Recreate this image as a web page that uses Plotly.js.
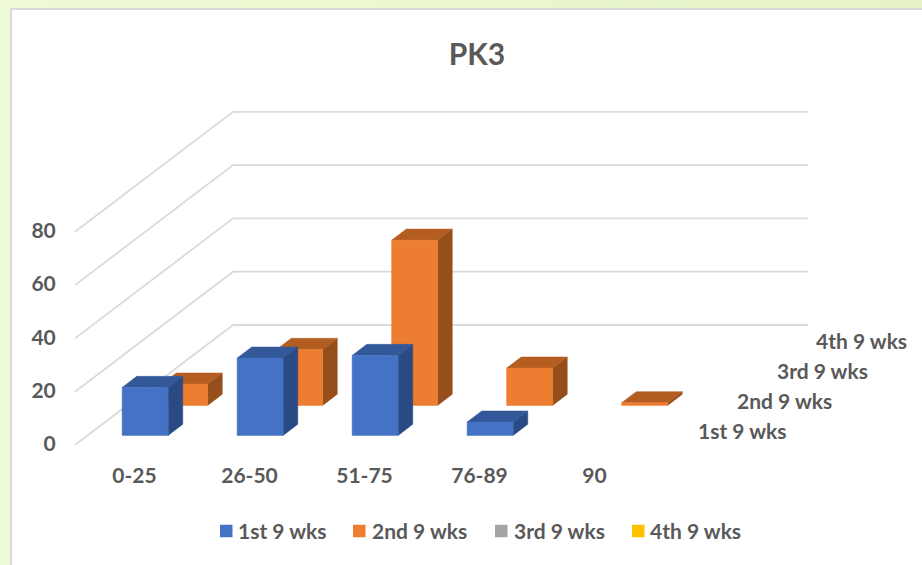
<!DOCTYPE html>
<html>
<head>
<meta charset="utf-8">
<script src="https://cdn.plot.ly/plotly-3.0.1.min.js"></script>
<style>
html,body{margin:0;padding:0;width:922px;height:565px;overflow:hidden;background:linear-gradient(90deg,#eefad7,#e6f4c6);}
#chart{width:922px;height:565px;}
</style>
</head>
<body>
<div id="chart"></div>
<script>
const categories = ['0-25', '26-50', '51-75', '76-89', '90'];
const seriesNames = ['1st 9 wks', '2nd 9 wks', '3rd 9 wks', '4th 9 wks'];
const wks1 = [18, 29, 30, 5, null];
const wks2 = [8, 21, 62, 14, 1];
const wks3 = [null, null, null, null, null];
const wks4 = [null, null, null, null, null];
const seriesValues = [wks1, wks2, wks3, wks4];
const frontColors = ['#4472C4', '#ED7D31', '#A5A5A5', '#FFC000'];
const topColors = ['#33589A', '#B45D20', '#7C7C7C', '#BF9000'];
const sideColors = ['#294A82', '#964F1B', '#636363', '#997300'];
const valueTicks = [0, 20, 40, 60, 80];

// Oblique projection: one series slot shifts a point by this much on the axes.
const W = 922, H = 565;
const pxPerCat = 115, pxPerVal = 2.665, originX = 75, originY = 445;
const slotX = 39.5 / pxPerCat, slotY = 30 / pxPerVal;
const project = (cat, depth, val) => [cat + depth * slotX, val + depth * slotY];

const barGap = 0.3, barWidth = 0.4, depthFront = 0.32, depthBack = 0.69;

function addPoly(store, pts) {
  pts.concat([pts[0]]).forEach(p => { store.x.push(p[0]); store.y.push(p[1]); });
  store.x.push(null); store.y.push(null);
}
function faceTrace(store, color, name) {
  return {type: 'scatter', mode: 'lines', x: store.x, y: store.y, fill: 'toself', fillcolor: color, name: name,
          line: {color: color, width: 0.5}, hoverinfo: 'skip', showlegend: false};
}

const traces = [];

// Grid lines on side wall and back wall
const grid = {x: [], y: []};
valueTicks.forEach(v => {
  [project(0, 0, v), project(0, 4, v), project(categories.length, 4, v)].forEach(p => { grid.x.push(p[0]); grid.y.push(p[1]); });
  grid.x.push(null); grid.y.push(null);
});
traces.push({type: 'scatter', mode: 'lines', x: grid.x, y: grid.y, line: {color: '#DADADA', width: 1.8},
  hoverinfo: 'skip', showlegend: false});

// Bars, back series first
for (let s = seriesValues.length - 1; s >= 0; s--) {
  const front = {x: [], y: []}, top = {x: [], y: []}, side = {x: [], y: []};
  seriesValues[s].forEach((v, c) => {
    if (v === null) return;
    const l = c + barGap, r = l + barWidth, d0 = s + depthFront, d1 = s + depthBack;
    addPoly(front, [project(l, d0, 0), project(r, d0, 0), project(r, d0, v), project(l, d0, v)]);
    addPoly(top, [project(l, d0, v), project(r, d0, v), project(r, d1, v), project(l, d1, v)]);
    addPoly(side, [project(r, d0, 0), project(r, d1, 0), project(r, d1, v), project(r, d0, v)]);
  });
  if (front.x.length) {
    traces.push(faceTrace(side, sideColors[s], seriesNames[s]));
    traces.push(faceTrace(top, topColors[s], seriesNames[s]));
    traces.push(faceTrace(front, frontColors[s], seriesNames[s]));
  }
}

const font = {family: 'Lato, "Open Sans", sans-serif', size: 21, color: '#595959'};

// Depth-axis labels
const annotations = seriesNames.map((n, s) => {
  const p = project(categories.length, s + 0.5, 0);
  return {x: p[0], y: p[1], xref: 'x', yref: 'y', text: '<b>' + n + '</b>', showarrow: false,
          xanchor: 'left', yanchor: 'middle', xshift: 26, yshift: 0, font: font};
});

// Legend row
const legendSwatchLeft = [220, 353, 495, 632];
const legendTextLeft = [238, 372, 514, 650];
const legendCenterY = 531, swatchSize = 12.5;
seriesNames.forEach((n, s) => annotations.push({
  x: legendTextLeft[s] / W, y: 1 - (legendCenterY - 1) / H, xref: 'paper', yref: 'paper', text: '<b>' + n + '</b>',
  showarrow: false, xanchor: 'left', yanchor: 'middle', xshift: -2, font: font}));

const shapes = [{type: 'rect', xref: 'paper', yref: 'paper', x0: 11 / W, x1: 1.01, y0: -0.01, y1: 1 - 9 / H,
                 fillcolor: '#FFFFFF', line: {color: '#D9D9D9', width: 2}, layer: 'below'}];
seriesNames.forEach((n, s) => shapes.push({
  type: 'rect', xref: 'paper', yref: 'paper',
  x0: legendSwatchLeft[s] / W, x1: (legendSwatchLeft[s] + swatchSize) / W,
  y0: 1 - (legendCenterY + swatchSize / 2) / H, y1: 1 - (legendCenterY - swatchSize / 2) / H,
  fillcolor: frontColors[s], line: {width: 0}, layer: 'above'}));

const layout = {
  width: W, height: H,
  margin: {l: 0, r: 0, t: 0, b: 0},
  paper_bgcolor: 'rgba(0,0,0,0)',
  plot_bgcolor: 'rgba(0,0,0,0)',
  title: {text: '<b>PK3</b>', x: 477 / W, xanchor: 'center', y: 1 - 54 / H, yanchor: 'middle',
          font: {family: font.family, size: 30, color: '#595959'}},
  xaxis: {
    range: [-originX / pxPerCat, (W - originX) / pxPerCat],
    tickmode: 'array',
    tickvals: categories.map((c, i) => i + 0.5),
    ticktext: categories.map(c => '<b>' + c + '</b>'),
    anchor: 'free', position: (H - 461) / H,
    showgrid: false, zeroline: false, showline: false,
    ticks: '', tickangle: 0, tickfont: font, ticklabelshift: 2
  },
  yaxis: {
    range: [(originY - H) / pxPerVal, originY / pxPerVal],
    tickmode: 'array',
    tickvals: valueTicks,
    ticktext: valueTicks.map(v => '<b>' + v + '</b>'),
    anchor: 'free', position: originX / W,
    showgrid: false, zeroline: false, showline: false,
    ticks: 'outside', ticklen: 15, tickcolor: 'rgba(0,0,0,0)', tickfont: font, ticklabelshift: -1
  },
  showlegend: false,
  annotations: annotations,
  shapes: shapes
};

Plotly.newPlot('chart', traces, layout, {displayModeBar: false, staticPlot: true});
</script>
</body>
</html>
